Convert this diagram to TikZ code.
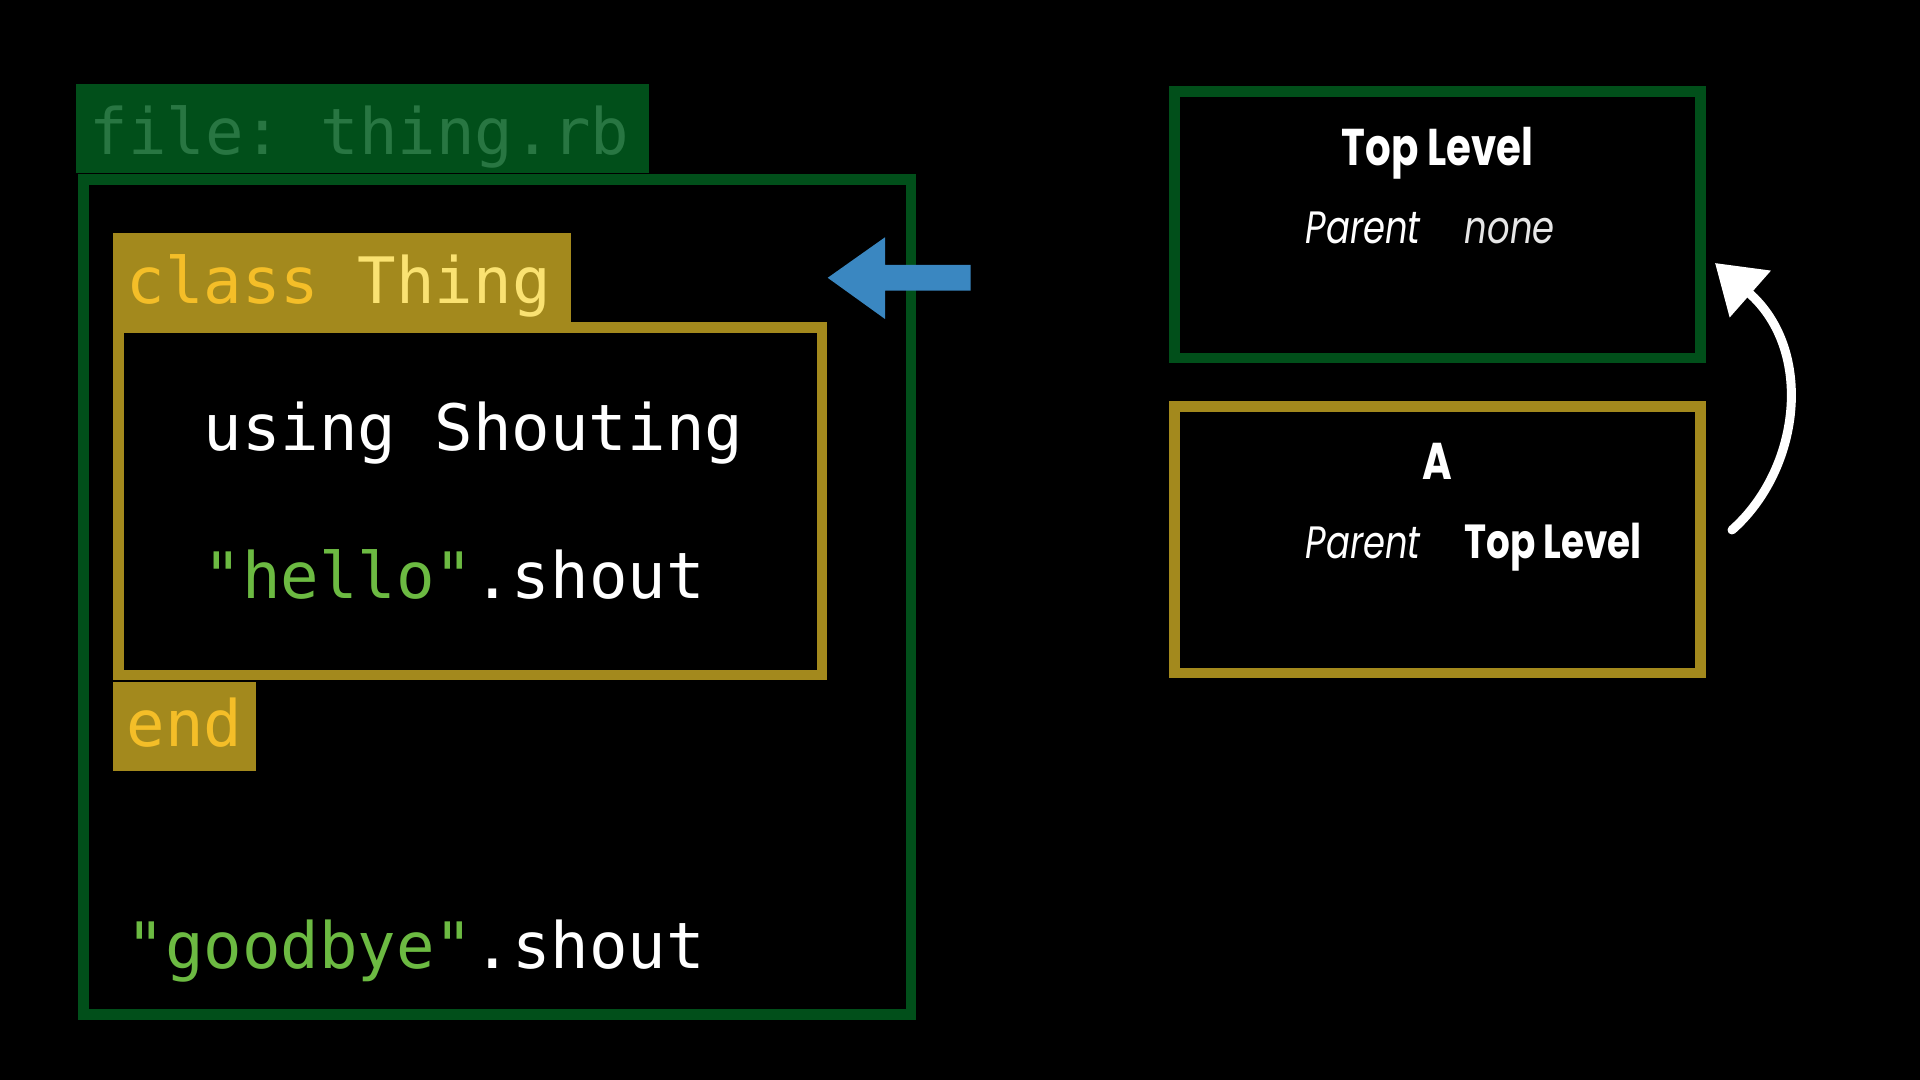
\documentclass[tikz,border=0pt]{standalone}
\usepackage{fontspec}
\setmonofont{DejaVu Sans Mono}
\newfontfamily\slidefont[FakeStretch=0.78]{Poppins}
\usetikzlibrary{arrows.meta}

\definecolor{codegreen}{RGB}{1,79,26}
\definecolor{filetext}{RGB}{40,118,66}
\definecolor{olive}{RGB}{163,137,29}
\definecolor{keyword}{RGB}{244,190,40}
\definecolor{constant}{RGB}{250,226,114}
\definecolor{strgreen}{RGB}{108,186,66}
\definecolor{arrowblue}{RGB}{58,135,193}
\definecolor{nonegrey}{RGB}{230,230,230}

\begin{document}
\begin{tikzpicture}[x=0.01cm, y=-0.01cm,
    codeline/.style={anchor=base west, inner sep=0pt, text=white, font=\ttfamily\fontsize{18.2}{20}\selectfont},
    hdr/.style={fill=#1, draw=none, inner sep=0pt},
    boxframe/.style={draw=#1, line width=0.107cm, inner sep=0pt},
    title/.style={anchor=base, inner sep=0pt, text=white, font=\slidefont\bfseries\fontsize{14.7}{16}\selectfont},
    parentlbl/.style={anchor=base west, inner sep=0pt, text=white, font=\slidefont\itshape\fontsize{12.9}{14}\selectfont},
    chalk/.style={draw=white, line width=0.09cm, line cap=round, -{Triangle[length=0.47cm, width=0.6cm]}}]

    \fill[black] (0,0) rectangle (1920,1080);
    \useasboundingbox (0,0) rectangle (1920,1080);

    % code side
    \node[hdr=codegreen, minimum width=5.726cm, minimum height=0.887cm] (filehdr) at (362.3,128.35) {};
    \node[hdr=olive, minimum width=4.573cm, minimum height=0.89cm] (classhdr) at (341.85,277.8) {};
    \node[hdr=olive, minimum width=1.43cm, minimum height=0.887cm] (endhdr) at (184.5,726.35) {};
    \node[boxframe=codegreen, minimum width=8.27cm, minimum height=8.345cm] (filebox) at (497.2,596.75) {};
    \node[boxframe=olive, minimum width=7.03cm, minimum height=3.473cm] (classbox) at (470.2,501.35) {};

    \node[codeline, text=filetext] (filename) at (89,155) {file: thing.rb};
    \node[codeline] (classline) at (126,303.3) {\textcolor{keyword}{class} \textcolor{constant}{Thing}};
    \node[codeline] (usingline) at (203,451) {using Shouting};
    \node[codeline] (helloline) at (203,599) {\textcolor{strgreen}{"hello"}.shout};
    \node[codeline, text=keyword] (endline) at (126,746.7) {end};
    \node[codeline] (byeline) at (126,969) {\textcolor{strgreen}{"goodbye"}.shout};

    \fill[arrowblue] (827.7,277.8) -- (885,237.3) -- (885,265) -- (970.7,265)
        -- (970.7,290.7) -- (885,290.7) -- (885,319) -- cycle;

    % scope side
    \node[boxframe=codegreen, minimum width=5.258cm, minimum height=2.667cm] (toplevel) at (1437.4,224.65) {};
    \node[boxframe=olive, minimum width=5.258cm, minimum height=2.667cm] (abox) at (1437.4,539.65) {};

    \node[title] (topname) at (1437.4,166) {Top Level};
    \node[parentlbl] (topparent) at (1305,243.3) {Parent};
    \node[parentlbl, text=nonegrey] (topnone) at (1464,243.3) {none};
    \node[title] (aname) at (1437.6,480) {A};
    \node[parentlbl] (aparent) at (1305,558.3) {Parent};
    \node[title, anchor=base west, font=\slidefont\bfseries\fontsize{13.6}{15}\selectfont] (aparentname) at (1464,559) {Top Level};

    \coordinate (chalkfrom) at (1732,530);
    \coordinate (chalkto) at (1715,263);
    \draw[chalk] (chalkfrom) .. controls (1800,470) and (1815,351) .. (chalkto);

\end{tikzpicture}
\end{document}
